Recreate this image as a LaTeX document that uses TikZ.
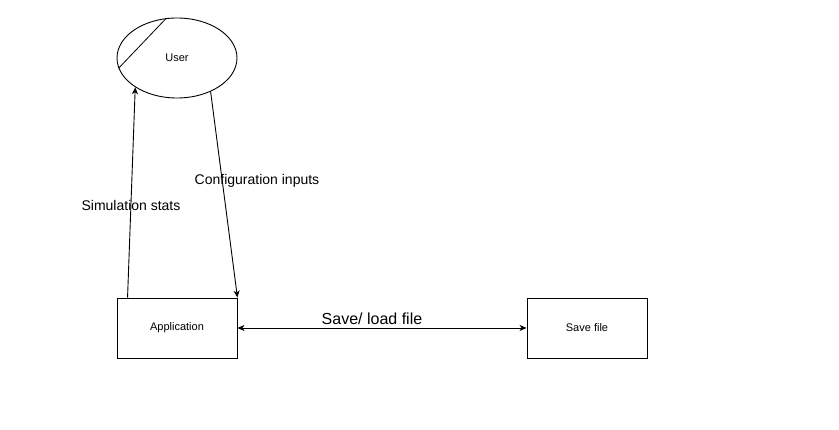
\documentclass[tikz,border=0pt]{standalone}
\usepackage{fontspec}
\setmainfont{Liberation Sans}
\usepackage{tikz}
\usetikzlibrary{calc,shapes,positioning,arrows.meta}

\begin{document}
\begin{tikzpicture}[x=1pt,y=-1pt,line width=0.9pt,
    box/.style={draw,minimum width=120pt,minimum height=60pt,inner sep=0pt,font=\fontsize{11}{13}\selectfont},
    actor/.style={draw,ellipse,minimum width=120pt,minimum height=80pt,inner sep=0pt,font=\fontsize{11}{13}\selectfont},
    tip/.style={-{Stealth[length=7pt,width=6pt,inset=2pt]}},
    lbl/.style={font=\fontsize{14}{16}\selectfont}]

    \useasboundingbox[fill=white] (0,0) rectangle (839,430);

    \node (user) at (177,58) [actor] {User};
    \node (app) at (177,328) [box] {Application};
    \node (save) at (587,328) [box] {Save file};

    % slash across the actor
    \draw[line width=0.8pt] (user.105) -- (user.190);

    \draw[tip] ($(app.north west)+(11,0)$) -- (user.215);
    \draw[tip] (user.315) -- (app.north east);
    \draw[{Stealth[length=7pt,width=6pt,inset=2pt]}-{Stealth[length=7pt,width=6pt,inset=2pt]}] (app.east) -- (save.west);

    \node (stats) at (131,205) [lbl] {Simulation stats};
    \node (config) at (257,181) [lbl] {Configuration inputs};
    \node (saveload) at (372,319) [font=\fontsize{16}{18}\selectfont] {Save/ load file};

\end{tikzpicture}
\end{document}
